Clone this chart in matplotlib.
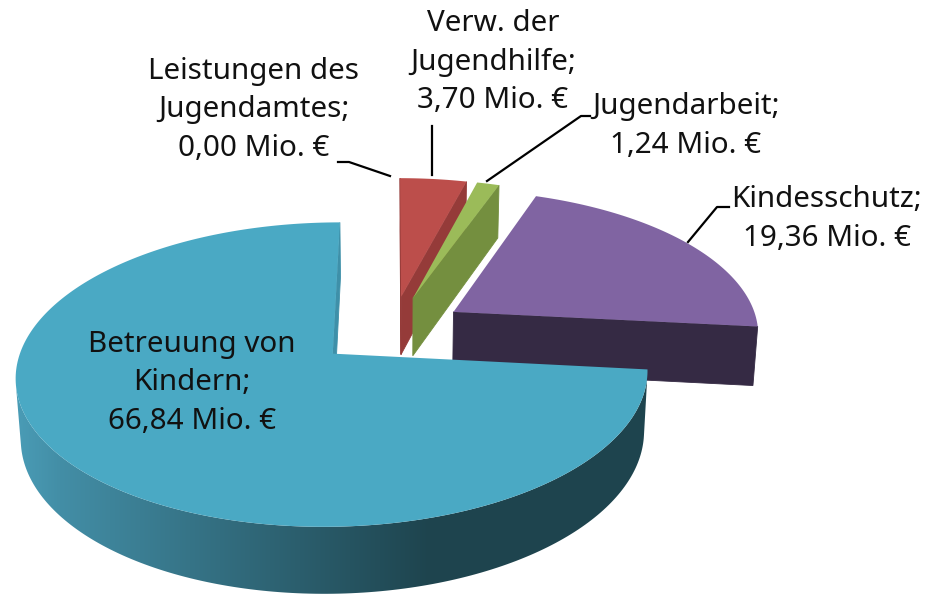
import numpy as np
import matplotlib
matplotlib.use('Agg')
import matplotlib.pyplot as plt
from matplotlib.patches import Polygon

# pie data, clockwise from 12 o'clock
names = ['Leistungen des\nJugendamtes;', 'Verw. der\nJugendhilfe;', 'Jugendarbeit;', 'Kindesschutz;', 'Betreuung von\nKindern;']
values = [0.00, 3.70, 1.24, 19.36, 66.84]
top_colors = ['#C0504D', '#BC4E4B', '#9BBB59', '#8064A2', '#4AA9C4']
wall_colors = ['#953B39', '#953B39', '#748F3F', '#352A44', '#3E90A9']
nudge_x = [0, 0, 0, 0, -3]

# projection settings, fitted to the picture
x0, y0 = 392, 330
R, E, H = 306, 74, 60
B, C = 0.467, 1.0
K, M = 0.00044, 0.00022


def project(X, Y, z):
    s = 1 / (1 - K * Y + M * z)
    return x0 + X * s, y0 + (Y * B + z * C) * s


def blue_wall(x):
    # shaded wall of the big slice, dark towards the right
    stops_x = [17, 60, 430, 933]
    rgb = np.array([[0x4A, 0x9C, 0xB6], [0x43, 0x8E, 0xA6], [0x1E, 0x44, 0x4E], [0x1E, 0x44, 0x4E]]) / 255
    return np.stack([np.interp(x, stops_x, rgb[:, i]) for i in range(3)], axis=-1)


fig = plt.figure(figsize=(9.33, 5.97), dpi=100)
ax = fig.add_axes([0, 0, 1, 1])
ax.axis('off')

angles = np.cumsum([0] + values) / sum(values) * 2 * np.pi
slices = []
for i in range(len(values)):
    a1, a2 = angles[i], angles[i + 1]
    if values[i] == 0:
        continue
    mid = (a1 + a2) / 2
    cx, cy = E * np.sin(mid) + nudge_x[i], -E * np.cos(mid)
    slices.append((cy, i, a1, a2, cx))

gradient = blue_wall(np.arange(933) + 0.5)[np.newaxis, :, :]

# back slices first
for cy, i, a1, a2, cx in sorted(slices):
    t = np.linspace(a1, a2, max(int((a2 - a1) * 60), 4))
    rim_x = cx + R * np.sin(t)
    rim_y = cy - R * np.cos(t)
    px = np.r_[cx, rim_x]
    py = np.r_[cy, rim_y]
    n = len(px)
    front = []
    for j in range(n):
        k = (j + 1) % n
        ax1, ay1 = project(px[j], py[j], 0)
        ax2, ay2 = project(px[k], py[k], 0)
        bx2, by2 = project(px[k], py[k], H)
        bx1, by1 = project(px[j], py[j], H)
        qx = [ax1, ax2, bx2, bx1]
        qy = [ay1, ay2, by2, by1]
        area = 0.5 * sum(qx[m] * qy[(m + 1) % 4] - qx[(m + 1) % 4] * qy[m] for m in range(4))
        if area >= 0:
            continue
        if i == 4 and 0 < j < n - 1:
            front.append(j)
        else:
            ax.fill(qx, qy, color=wall_colors[i], lw=0.6, zorder=2)
    if front:
        # big slice wall: one shape filled with the left to right shading
        idx = front + [front[-1] + 1]
        wx, wy = project(px[idx], py[idx], 0)
        bx, by = project(px[idx], py[idx], H)
        shape = Polygon(np.c_[np.r_[wx, bx[::-1]], np.r_[wy, by[::-1]]], closed=True,
                        transform=ax.transData, fc='none', ec='none')
        ax.add_patch(shape)
        im = ax.imshow(gradient, extent=(0, 933, 597, 0), aspect='auto', zorder=2)
        im.set_clip_path(shape)
    tx, ty = project(px, py, 0)
    ax.fill(tx, ty, color=top_colors[i], lw=0, zorder=3)

ax.set_xlim(0, 933)
ax.set_ylim(597, 0)

# labels
label_pos = [(254, 110), (493, 62), (686, 126), (827, 219), (192, 383)]
for name, val, (lx, ly) in zip(names, values, label_pos):
    txt = name + '\n' + f'{val:.2f}'.replace('.', ',') + ' Mio. €'
    ax.text(lx, ly, txt, ha='center', va='center', fontsize=21.3, family='Noto Sans',
            color='#111111', linespacing=1.43, zorder=5)

# leader lines
leaders = [
    ([338, 349, 390], [162, 162, 176]),
    ([432, 432], [126, 175]),
    ([590, 581, 487], [116, 116, 181]),
    ([729, 717, 688], [207, 207, 242]),
]
for lx, ly in leaders:
    ax.plot(lx, ly, color='black', lw=1.6, zorder=4)

plt.savefig('out.png', dpi=100)
plt.close()
